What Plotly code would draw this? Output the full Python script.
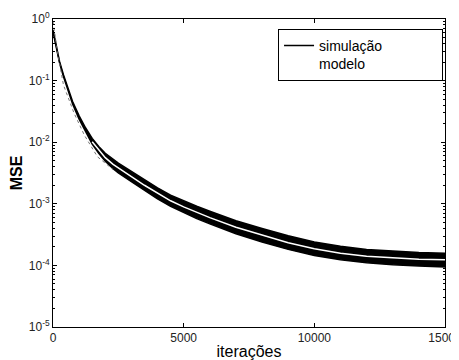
import plotly.graph_objects as go

# iterations at which the curves were read
iters = [0, 100, 250, 400, 500, 750, 1000, 1250, 1500, 1750, 2000, 2300, 2500, 3000,
         3500, 4000, 4500, 5000, 5500, 6000, 7000, 8000, 9000, 10000, 11000, 12000,
         13000, 14000, 15000]

# simulation band (upper / lower edge of the noisy curve)
sim_upper = [0.664, 0.391, 0.205, 0.1245, 0.0923, 0.0457, 0.0269, 0.0170, 0.01148,
             0.00851, 0.00661, 0.00525, 0.00457, 0.00335, 0.00245, 0.00182, 0.00138,
             0.00111, 0.000912, 0.000759, 0.000531, 0.000398, 0.000302, 0.000240,
             0.000204, 0.000182, 0.000170, 0.000162, 0.000158]
sim_lower = [0.628, 0.370, 0.194, 0.116, 0.0861, 0.0417, 0.0237, 0.0145, 0.00933,
             0.00661, 0.00490, 0.00372, 0.00316, 0.00229, 0.00164, 0.00120, 0.000912,
             0.000716, 0.000575, 0.000473, 0.000327, 0.000240, 0.000182, 0.000145,
             0.000123, 0.000110, 0.000102, 0.0000977, 0.0000944]

# model curve (white line inside the band), visible from 1500 iterations on
iters_model = [1500, 1750, 2000, 2300, 2500, 3000, 3500, 4000, 4500, 5000, 5500, 6000,
               7000, 8000, 9000, 10000, 11000, 12000, 13000, 14000, 15000]
modelo = [0.0102, 0.00741, 0.00562, 0.00437, 0.00380, 0.00275, 0.00200, 0.00148,
          0.00112, 0.000891, 0.000724, 0.000596, 0.000417, 0.000309, 0.000234,
          0.000186, 0.000158, 0.000141, 0.000132, 0.000126, 0.000123]

# early dotted approximation
iters_early = [0, 200, 400, 800, 1200, 1700, 2300]
aprox_early = [0.9, 0.25, 0.085, 0.03, 0.013, 0.0058, 0.0036]

legend_labels = ["simulação", "modelo"]

ytick_vals = [1e-5, 1e-4, 1e-3, 1e-2, 1e-1, 1e0]
ytick_text = ["10<sup>-5</sup>", "10<sup>-4</sup>", "10<sup>-3</sup>",
              "10<sup>-2</sup>", "10<sup>-1</sup>", "10<sup>0</sup>"]
xtick_vals = [0, 5000, 10000, 15000]
xtick_text = ["0", "5000", "10000", "15000"]

FONT = "Liberation Sans, Arial, sans-serif"
PAD = "\u00a0" * 14

fig = go.Figure()
# legend: the model's sample line is white (invisible), so both labels share one entry
fig.add_trace(go.Scatter(x=iters, y=sim_upper, mode="lines",
                         name=legend_labels[0] + PAD + "<br>" + legend_labels[1],
                         line=dict(color="black", width=1.5), showlegend=True))
fig.add_trace(go.Scatter(x=iters, y=sim_lower, mode="lines", name="sim_lower",
                         line=dict(color="black", width=1.5), fill="tonexty",
                         fillcolor="black", showlegend=False))
fig.add_trace(go.Scatter(x=iters_early, y=aprox_early, mode="lines", name="aprox",
                         line=dict(color="#777", width=1, dash="dot"), showlegend=False))
fig.add_trace(go.Scatter(x=iters_model, y=modelo, mode="lines", name=legend_labels[1],
                         line=dict(color="white", width=1.5), showlegend=False))

fig.update_layout(
    width=451, height=352,
    margin=dict(l=45, r=14, t=11, b=33),
    paper_bgcolor="white", plot_bgcolor="white",
    font=dict(family=FONT, size=12, color="#222"),
    showlegend=True,
    legend=dict(x=0.995, y=0.968, xanchor="right", yanchor="top",
                traceorder="normal", valign="top",
                bgcolor="white", bordercolor="black", borderwidth=1,
                font=dict(family=FONT, size=14, color="black"),
                tracegroupgap=0, itemwidth=30),
    xaxis=dict(range=[0, 15000], tickvals=xtick_vals, ticktext=xtick_text,
               ticks="inside", ticklen=4, tickcolor="black",
               ticklabeloverflow="allow", automargin=False,
               showline=True, linecolor="black", linewidth=1, mirror="allticks",
               showgrid=False, zeroline=False,
               tickfont=dict(family=FONT, size=12, color="#222"),
               title=dict(text="iterações", font=dict(family=FONT, size=16, color="black"),
                          standoff=7)),
    yaxis=dict(type="log", range=[-5, 0], tickvals=ytick_vals, ticktext=ytick_text,
               ticks="inside", ticklen=4, tickcolor="black",
               automargin=False,
               minor=dict(ticks="inside", ticklen=2, tickcolor="black",
                          dtick="D1", showgrid=False),
               showline=True, linecolor="black", linewidth=1, mirror="allticks",
               showgrid=False, zeroline=False,
               tickfont=dict(family=FONT, size=12, color="#222"),
               title=dict(text="<b>MSE</b>", font=dict(family=FONT, size=16, color="black"),
                          standoff=4)),
)

fig.write_html("out.html")
